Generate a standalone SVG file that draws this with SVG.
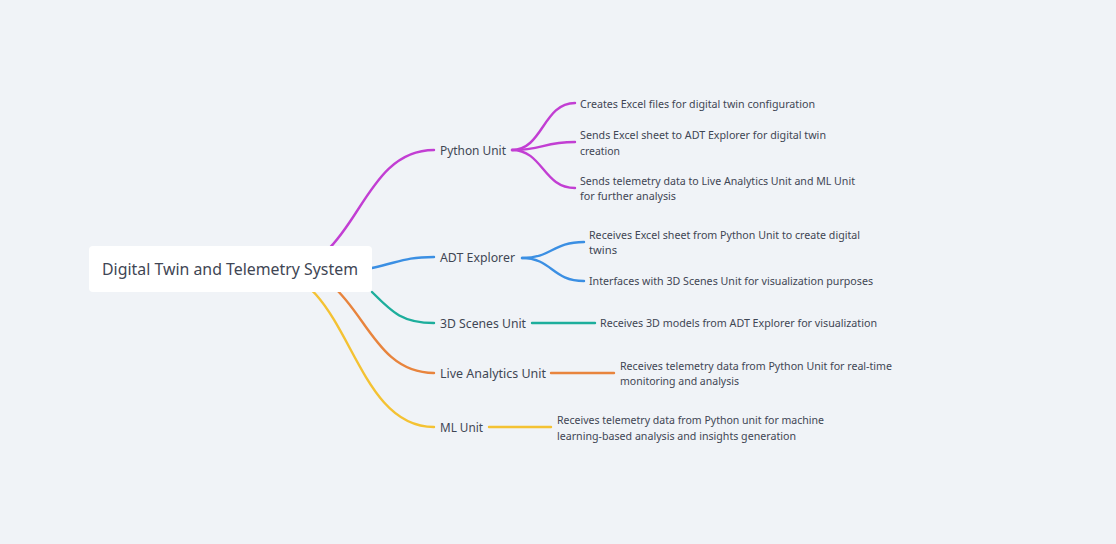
<svg xmlns="http://www.w3.org/2000/svg" width="1116" height="544" viewBox="0 0 1116 544">
<style>
text{font-family:"Noto Sans","DejaVu Sans",sans-serif;fill:#3f4654}
.root{font-size:16px}
.lbl{font-size:12.5px}
.leaf{font-size:11px}
.c{fill:none;stroke-width:2.4;stroke-linecap:round}
.p{stroke:#c23ed3}.b{stroke:#3b8fe3}.t{stroke:#1dae9c}.o{stroke:#e8843d}.y{stroke:#f4c233}
</style>
<rect width="1116" height="544" fill="#f0f3f7"/>
<g id="connectors">
<path class="c p" d="M282,269 C358,269 358,150 434,150"/>
<path class="c b" d="M372,268 C400,262 405,257 434,257"/>
<path class="c t" d="M372,292 C392,312 402,323 434,323"/>
<path class="c o" d="M290,270 C362,270 362,373 434,373"/>
<path class="c y" d="M266,270 C350,270 350,427 434,427"/>
<path class="c p" d="M512,150 C543,150 543,103 575,103"/>
<path class="c p" d="M512,150 C543,150 543,142 575,142"/>
<path class="c p" d="M512,150 C543,150 543,188 575,188"/>
<path class="c b" d="M522,258 C552,258 552,242 584,242"/>
<path class="c b" d="M522,258 C552,258 552,281 584,281"/>
<path class="c t" d="M532,323 L595,323"/>
<path class="c o" d="M551,373 L614,373"/>
<path class="c y" d="M489,427 L551,427"/>
</g>
<g id="root">
<rect x="89" y="246" width="283" height="46" rx="4" fill="#ffffff"/>
<text class="root" x="102" y="275" textLength="256" lengthAdjust="spacingAndGlyphs">Digital Twin and Telemetry System</text>
</g>
<g id="python-unit"><text class="lbl" x="440" y="155" textLength="66" lengthAdjust="spacingAndGlyphs">Python Unit</text></g>
<g id="adt-explorer"><text class="lbl" x="440" y="262" textLength="75" lengthAdjust="spacingAndGlyphs">ADT Explorer</text></g>
<g id="scenes-unit"><text class="lbl" x="440" y="327.5" textLength="86" lengthAdjust="spacingAndGlyphs">3D Scenes Unit</text></g>
<g id="live-analytics"><text class="lbl" x="440" y="378" textLength="106" lengthAdjust="spacingAndGlyphs">Live Analytics Unit</text></g>
<g id="ml-unit"><text class="lbl" x="440" y="432" textLength="43" lengthAdjust="spacingAndGlyphs">ML Unit</text></g>
<g id="py-leaf1"><text class="leaf" x="580" y="108" textLength="235" lengthAdjust="spacingAndGlyphs">Creates Excel files for digital twin configuration</text></g>
<g id="py-leaf2"><text class="leaf" x="580" y="139" textLength="246" lengthAdjust="spacingAndGlyphs">Sends Excel sheet to ADT Explorer for digital twin</text><text class="leaf" x="580" y="155" textLength="40" lengthAdjust="spacingAndGlyphs">creation</text></g>
<g id="py-leaf3"><text class="leaf" x="580" y="185" textLength="275" lengthAdjust="spacingAndGlyphs">Sends telemetry data to Live Analytics Unit and ML Unit</text><text class="leaf" x="580" y="200" textLength="96" lengthAdjust="spacingAndGlyphs">for further analysis</text></g>
<g id="adt-leaf1"><text class="leaf" x="589" y="239" textLength="271" lengthAdjust="spacingAndGlyphs">Receives Excel sheet from Python Unit to create digital</text><text class="leaf" x="589" y="254" textLength="28" lengthAdjust="spacingAndGlyphs">twins</text></g>
<g id="adt-leaf2"><text class="leaf" x="589" y="285" textLength="284" lengthAdjust="spacingAndGlyphs">Interfaces with 3D Scenes Unit for visualization purposes</text></g>
<g id="scenes-leaf"><text class="leaf" x="600" y="327" textLength="277" lengthAdjust="spacingAndGlyphs">Receives 3D models from ADT Explorer for visualization</text></g>
<g id="live-leaf"><text class="leaf" x="620" y="369.5" textLength="272" lengthAdjust="spacingAndGlyphs">Receives telemetry data from Python Unit for real-time</text><text class="leaf" x="620" y="385" textLength="119" lengthAdjust="spacingAndGlyphs">monitoring and analysis</text></g>
<g id="ml-leaf"><text class="leaf" x="557" y="424" textLength="267" lengthAdjust="spacingAndGlyphs">Receives telemetry data from Python unit for machine</text><text class="leaf" x="557" y="440" textLength="239" lengthAdjust="spacingAndGlyphs">learning-based analysis and insights generation</text></g>
</svg>
